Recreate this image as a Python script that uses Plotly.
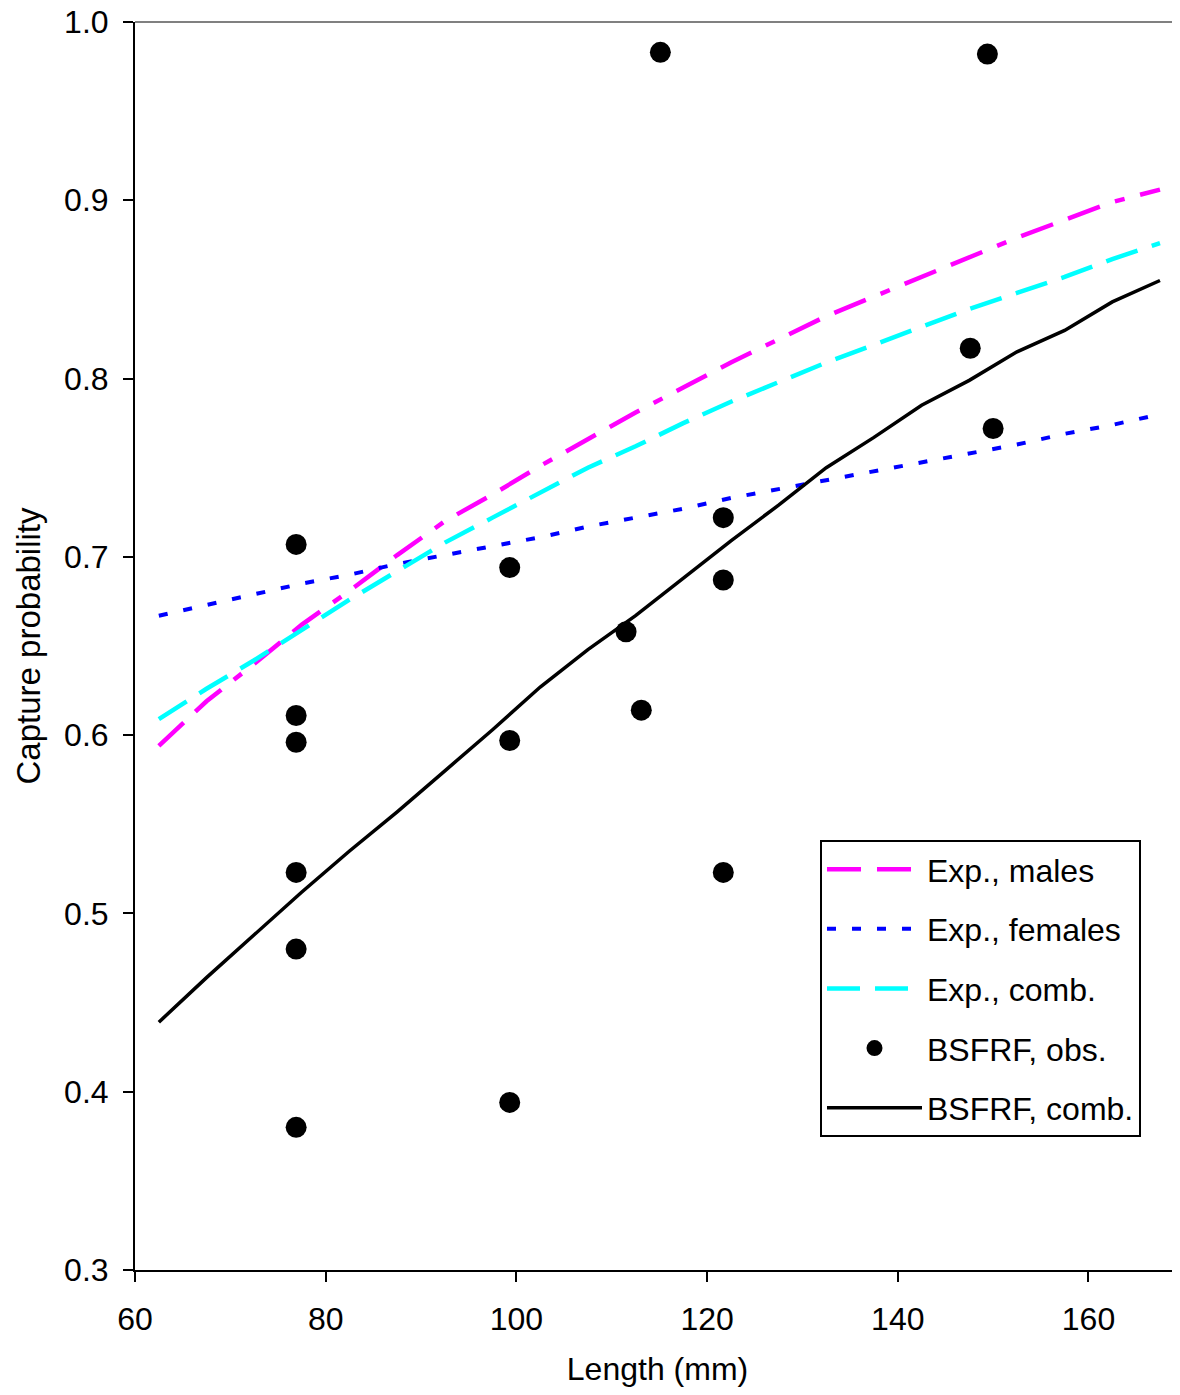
import plotly.graph_objects as go

# lengths at which the fitted curves are evaluated (mm)
lengths = [62.5, 67.5, 72.5, 77.5, 82.5, 87.5, 92.5, 97.5, 102.5, 107.5, 112.5,
           117.5, 122.5, 127.5, 132.5, 137.5, 142.5, 147.5, 152.5, 157.5, 162.5, 167.5]

exp_males = [0.594, 0.619, 0.640, 0.662, 0.681, 0.701, 0.720, 0.735, 0.751, 0.766, 0.781,
             0.795, 0.809, 0.822, 0.835, 0.846, 0.857, 0.868, 0.879, 0.889, 0.899, 0.906]
exp_females = [0.667, 0.673, 0.679, 0.685, 0.690, 0.696, 0.701, 0.706, 0.711, 0.717, 0.722,
               0.727, 0.733, 0.738, 0.743, 0.748, 0.753, 0.758, 0.763, 0.769, 0.774, 0.780]
exp_comb = [0.609, 0.626, 0.642, 0.659, 0.676, 0.692, 0.708, 0.722, 0.736, 0.750, 0.762,
            0.775, 0.787, 0.798, 0.809, 0.819, 0.829, 0.839, 0.848, 0.857, 0.867, 0.876]
bsfrf_comb = [0.439, 0.464, 0.488, 0.512, 0.535, 0.557, 0.580, 0.603, 0.627, 0.648, 0.667,
              0.688, 0.709, 0.729, 0.750, 0.767, 0.785, 0.799, 0.815, 0.827, 0.843, 0.855]

# observed BSFRF capture probabilities
obs_len = [76.9, 76.9, 76.9, 76.9, 76.9, 76.9, 99.3, 99.3, 99.3, 115.1, 111.5, 113.1,
           121.7, 121.7, 121.7, 149.4, 147.6, 150.0]
obs_p = [0.707, 0.611, 0.596, 0.523, 0.480, 0.380, 0.694, 0.597, 0.394, 0.983, 0.658, 0.614,
         0.722, 0.687, 0.523, 0.982, 0.817, 0.772]

x_ticks = [60, 80, 100, 120, 140, 160]
y_ticks = [0.3, 0.4, 0.5, 0.6, 0.7, 0.8, 0.9, 1.0]

fig = go.Figure()
fig.add_trace(go.Scatter(x=lengths, y=exp_males, mode="lines", name="Exp., males",
                         legendgroup="a",
                         line=dict(color="#ff00ff", width=4.5,
                                   dash="34px,16px,34px,16px,10px,16px")))
fig.add_trace(go.Scatter(x=lengths, y=exp_females, mode="lines", name="Exp., females",
                         legendgroup="b",
                         line=dict(color="#0000ff", width=4, dash="9px,16px")))
fig.add_trace(go.Scatter(x=lengths, y=exp_comb, mode="lines", name="Exp., comb.",
                         legendgroup="c",
                         line=dict(color="#00ffff", width=4.5, dash="33px,15px")))
fig.add_trace(go.Scatter(x=obs_len, y=obs_p, mode="markers", name="BSFRF, obs.",
                         legendgroup="d",
                         marker=dict(color="black", size=21)))
fig.add_trace(go.Scatter(x=lengths, y=bsfrf_comb, mode="lines", name="BSFRF, comb.",
                         legendgroup="e",
                         line=dict(color="black", width=3.5)))

# the page has an 8px body margin, so the figure is sized to fit the window
fig.update_layout(
    width=1172, height=1379,
    margin=dict(l=127, r=0, t=14, b=117),
    plot_bgcolor="white", paper_bgcolor="white",
    font=dict(family="Liberation Sans, Arial", size=32, color="black"),
    showlegend=True,
    legend=dict(x=0.6555, y=0.3446, xanchor="left", yanchor="top",
                bordercolor="black", borderwidth=2, bgcolor="white",
                tracegroupgap=15, itemwidth=95,
                font=dict(size=32)),
)
fig.update_xaxes(range=[60, 169.6], tickvals=x_ticks, automargin=False,
                 showgrid=False, zeroline=False, showline=True, linecolor="black",
                 linewidth=2, ticks="outside", ticklen=10, tickwidth=2, tickcolor="black",
                 ticklabelstandoff=10, tickfont=dict(size=32),
                 title=dict(text="Length (mm)", standoff=30, font=dict(size=32)))
fig.update_yaxes(range=[0.3, 1.0], tickvals=y_ticks, tickformat=".1f",
                 ticklabeloverflow="allow", automargin=False,
                 showgrid=False, zeroline=False, showline=True, linecolor="black",
                 linewidth=2, ticks="outside", ticklen=10, tickwidth=2, tickcolor="black",
                 ticklabelstandoff=8, tickfont=dict(size=32),
                 title=dict(text="Capture probability", standoff=14, font=dict(size=33)))
# grey top border of the plot area
fig.add_shape(type="line", xref="paper", yref="paper", x0=0, x1=1, y0=1, y1=1,
              line=dict(color="#808080", width=2))

fig.write_html("out.html")
